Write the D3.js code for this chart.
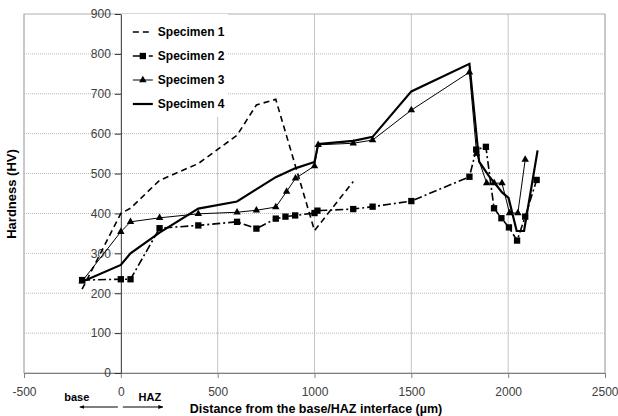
<!DOCTYPE html>
<html>
<head>
<meta charset="utf-8">
<script src="https://cdn.jsdelivr.net/npm/d3@7"></script>
<style>
    body { margin: 0; background: #fff; }
    text { font-family: "Liberation Sans", Arial, sans-serif; }
</style>
</head>
<body>
<div id="chart"></div>
<script>
// Series data (x in µm, y in HV)
const seriesNames = ["Specimen 1", "Specimen 2", "Specimen 3", "Specimen 4"];

const spec1X = [-200, 0, 50, 200, 400, 600, 700, 800, 1000, 1200];
const spec1Y = [210, 400, 413, 483, 525, 596, 672, 686, 357, 480];

const spec2X = [-200, 0, 50, 200, 400, 600, 700, 800, 850, 900, 1000, 1015, 1200, 1300, 1500, 1800, 1835, 1885, 1927, 1965, 2004, 2046, 2088, 2147];
const spec2Y = [233, 235, 235, 363, 370, 379, 362, 387, 392, 395, 401, 407, 411, 417, 431, 492, 560, 567, 413, 388, 365, 332, 392, 484];

const spec3X = [-200, 0, 50, 200, 400, 600, 700, 800, 856, 902, 1000, 1019, 1200, 1300, 1500, 1800, 1837, 1889, 1928, 1968, 2007, 2050, 2088];
const spec3Y = [230, 354, 379, 389, 399, 403, 408, 416, 455, 488, 519, 572, 576, 584, 659, 754, 550, 476, 476, 476, 401, 401, 535];

const spec4X = [-200, 0, 50, 200, 400, 600, 800, 900, 1000, 1019, 1200, 1300, 1500, 1800, 1850, 1900, 1970, 2002, 2044, 2082, 2152];
const spec4Y = [229, 271, 300, 352, 412, 430, 491, 513, 529, 574, 582, 592, 706, 775, 530, 494, 452, 439, 356, 356, 558];

const xTicks = [-500, 0, 500, 1000, 1500, 2000, 2500];
const yTicks = [0, 100, 200, 300, 400, 500, 600, 700, 800, 900];

// Chart dimensions
const width = 618;
const height = 416;
const margin = { top: 14, right: 13, bottom: 43, left: 24 };
const innerW = width - margin.left - margin.right;
const innerH = height - margin.top - margin.bottom;

const svg = d3.select("#chart")
    .append("svg")
    .attr("width", width)
    .attr("height", height);

const g = svg.append("g")
    .attr("transform", `translate(${margin.left},${margin.top})`);

// Scales
const x = d3.scaleLinear().domain([-500, 2500]).range([0, innerW]);
const y = d3.scaleLinear().domain([0, 900]).range([innerH, 0]);

// Plain labels: hyphen minus, no thousands separator
const plainFormat = d => (d < 0 ? "-" : "") + Math.abs(d);

// Horizontal dotted grid lines
g.selectAll(".hgrid")
    .data(yTicks.filter(d => d > 0 && d < 900))
    .enter().append("line")
    .attr("x1", 0).attr("x2", innerW)
    .attr("y1", d => y(d)).attr("y2", d => y(d))
    .attr("stroke", "#b8b8b8")
    .attr("stroke-width", 1)
    .attr("stroke-dasharray", "1,1");

// Vertical grid lines
g.selectAll(".vgrid")
    .data(xTicks.filter(d => d !== 0))
    .enter().append("line")
    .attr("x1", d => x(d)).attr("x2", d => x(d))
    .attr("y1", 0).attr("y2", innerH)
    .attr("stroke", "#c4c4c4")
    .attr("stroke-width", 1);

// Plot border
g.append("rect")
    .attr("x", 0).attr("y", 0)
    .attr("width", innerW).attr("height", innerH)
    .attr("fill", "none")
    .attr("stroke", "#b0b0b0")
    .attr("stroke-width", 1);

// Legend background hides the grid behind it
g.append("rect")
    .attr("x", x(0) + 1).attr("y", 0)
    .attr("width", 106).attr("height", 103)
    .attr("fill", "#fff");

// X axis
const xAxis = g.append("g")
    .attr("transform", `translate(0,${innerH})`)
    .call(d3.axisBottom(x).tickValues(xTicks).tickFormat(plainFormat)
        .tickSize(5).tickPadding(9).tickSizeOuter(0));
xAxis.select(".domain").attr("stroke", "#808080");
xAxis.selectAll(".tick line").attr("stroke", "#808080");
xAxis.selectAll("text")
    .attr("fill", "#404040")
    .style("font-size", "12px");
// keep the last label inside the picture
xAxis.selectAll(".tick text")
    .filter(d => d === 2500)
    .attr("text-anchor", "end")
    .attr("x", 13);

// Y axis crosses at x = 0
const yAxis = g.append("g")
    .attr("transform", `translate(${x(0)},0)`)
    .call(d3.axisLeft(y).tickValues(yTicks).tickFormat(plainFormat)
        .tickSize(6).tickPadding(4).tickSizeOuter(0));
yAxis.select(".domain").attr("stroke", "#303030");
yAxis.selectAll(".tick line").attr("stroke", "#303030");
yAxis.selectAll("text")
    .attr("fill", "#404040")
    .style("font-size", "12px");

// Series definitions
const series = [
    { name: seriesNames[0], xs: spec1X, ys: spec1Y, width: 1.6, dash: "6,4", marker: null },
    { name: seriesNames[1], xs: spec2X, ys: spec2Y, width: 1.6, dash: "8,3,2,3", marker: "square" },
    { name: seriesNames[2], xs: spec3X, ys: spec3Y, width: 1, dash: null, marker: "triangle" },
    { name: seriesNames[3], xs: spec4X, ys: spec4Y, width: 2.2, dash: null, marker: null }
];

const line = d3.line()
    .x(d => x(d[0]))
    .y(d => y(d[1]));

const squareSym = d3.symbol().type(d3.symbolSquare).size(40);
const triSym = d3.symbol().type(d3.symbolTriangle).size(24);

series.forEach(function (s) {
    const pts = s.xs.map((v, i) => [v, s.ys[i]]);

    g.append("path")
        .datum(pts)
        .attr("d", line)
        .attr("fill", "none")
        .attr("stroke", "#000")
        .attr("stroke-width", s.width)
        .attr("stroke-dasharray", s.dash);

    if (s.marker) {
        g.selectAll(null)
            .data(pts)
            .enter().append("path")
            .attr("transform", d => `translate(${x(d[0])},${y(d[1])})`)
            .attr("d", s.marker === "square" ? squareSym : triSym)
            .attr("fill", "#000");
    }
});

// Legend
const legend = g.append("g")
    .attr("transform", `translate(${x(0) + 12},0)`);

series.forEach(function (s, i) {
    const ly = 18 + i * 24;
    legend.append("line")
        .attr("x1", 0).attr("x2", 20)
        .attr("y1", ly).attr("y2", ly)
        .attr("stroke", "#000")
        .attr("stroke-width", s.width)
        .attr("stroke-dasharray", s.dash);
    if (s.marker) {
        legend.append("path")
            .attr("transform", `translate(10,${ly})`)
            .attr("d", s.marker === "square" ? squareSym : triSym)
            .attr("fill", "#000");
    }
    legend.append("text")
        .attr("x", 25)
        .attr("y", ly)
        .attr("dy", "0.35em")
        .style("font-size", "12px")
        .style("font-weight", "bold")
        .attr("fill", "#000")
        .text(s.name);
});

// Axis titles
svg.append("text")
    .attr("x", 316)
    .attr("y", 413)
    .attr("text-anchor", "middle")
    .style("font-size", "12.5px")
    .style("font-weight", "bold")
    .text("Distance from the base/HAZ interface (µm)");

svg.append("text")
    .attr("transform", "translate(16,194) rotate(-90)")
    .attr("text-anchor", "middle")
    .style("font-size", "13px")
    .style("font-weight", "bold")
    .text("Hardness (HV)");

// base / HAZ direction labels with arrows
svg.append("defs").append("marker")
    .attr("id", "arrow")
    .attr("viewBox", "0 0 10 10")
    .attr("refX", 9).attr("refY", 5)
    .attr("markerWidth", 5).attr("markerHeight", 5)
    .attr("orient", "auto")
    .append("path")
    .attr("d", "M0,1 L10,5 L0,9 Z")
    .attr("fill", "#000");

const x0 = margin.left + x(0);

svg.append("text")
    .attr("x", x0 - 44).attr("y", 401)
    .attr("text-anchor", "middle")
    .style("font-size", "11px")
    .style("font-weight", "bold")
    .text("base");

svg.append("text")
    .attr("x", x0 + 29).attr("y", 401)
    .attr("text-anchor", "middle")
    .style("font-size", "11px")
    .style("font-weight", "bold")
    .text("HAZ");

svg.append("line")
    .attr("x1", x0 - 3).attr("x2", x0 - 41)
    .attr("y1", 407).attr("y2", 407)
    .attr("stroke", "#000").attr("stroke-width", 1)
    .attr("marker-end", "url(#arrow)");

svg.append("line")
    .attr("x1", x0 + 2).attr("x2", x0 + 42)
    .attr("y1", 407).attr("y2", 407)
    .attr("stroke", "#000").attr("stroke-width", 1)
    .attr("marker-end", "url(#arrow)");
</script>
</body>
</html>
